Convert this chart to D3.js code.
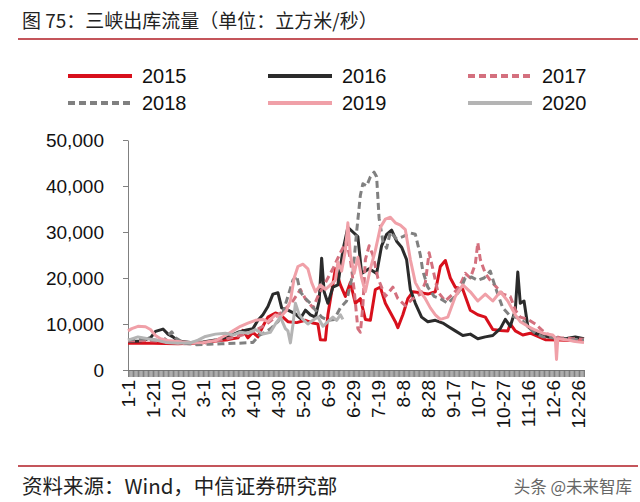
<!DOCTYPE html>
<html>
<head>
<meta charset="utf-8">
<script src="https://cdn.jsdelivr.net/npm/d3@7"></script>
<style>
  body { margin: 0; background: #fff; }
  svg { display: block; }
</style>
</head>
<body>
<div id="chart"></div>
<script>
// day index (leap-year calendar, 0 = 1-1) and outflow in m3/s
var flow2015 = [[0,5800],[20,5800],[40,5700],[60,5900],[70,6300],[80,6600],[88,7000],[92,8600],[96,7000],[100,8200],[104,7200],[108,9500],[112,11500],[118,12400],[122,12000],[128,10500],[135,10300],[142,10800],[148,10200],[152,10000],[154,6600],[158,6500],[160,12000],[163,17000],[166,22000],[170,18500],[174,16000],[178,19000],[182,14500],[186,15500],[190,11000],[194,10800],[198,17500],[202,18000],[206,14500],[210,12500],[214,10500],[216,9200],[220,12000],[224,15500],[228,17000],[234,16800],[240,16500],[246,17000],[250,22500],[254,23800],[258,20000],[262,18000],[268,17500],[274,13000],[280,12000],[286,11500],[292,8800],[298,8600],[304,8500],[306,10000],[310,8500],[316,7600],[322,8000],[328,7300],[334,6600],[345,6500],[355,6400],[365,6300]];
var flow2016 = [[0,6200],[10,6300],[18,7000],[22,8400],[28,8900],[32,7800],[36,7200],[40,6300],[50,6000],[60,6100],[70,6500],[80,7200],[88,8200],[95,8700],[100,9000],[104,10800],[108,12000],[112,13800],[116,16500],[120,16800],[123,13500],[128,13000],[134,12200],[138,11200],[142,13000],[146,12000],[150,11500],[153,15000],[155,24300],[157,17000],[160,14500],[164,18000],[168,18500],[172,26000],[176,31000],[180,30000],[184,29000],[187,21000],[193,22000],[199,21000],[203,27000],[207,29500],[211,30400],[215,28000],[219,26700],[223,24000],[226,17500],[230,14500],[235,11500],[240,10500],[246,10800],[252,10200],[256,9500],[262,8500],[268,7500],[274,7800],[280,6800],[286,7200],[292,7500],[298,9000],[302,11000],[306,9500],[310,13000],[312,21300],[314,14500],[317,15000],[320,9500],[326,8000],[332,7500],[340,7000],[350,6800],[358,7200],[365,6800]];
var flow2017 = [[0,6300],[15,6400],[30,6200],[45,5700],[60,5800],[75,6500],[90,7500],[100,8300],[110,9800],[118,11500],[125,13000],[132,15000],[138,17500],[142,15500],[148,13500],[152,16000],[158,19000],[164,22000],[170,25500],[175,28000],[178,24000],[181,17500],[184,9000],[186,8200],[188,14000],[190,24000],[193,27000],[196,25000],[200,20000],[206,16000],[212,18000],[216,15500],[222,14000],[228,15500],[234,16500],[238,19000],[241,25500],[244,22000],[248,17000],[254,15000],[260,16500],[265,18000],[270,21000],[274,20000],[278,23000],[280,27700],[282,24000],[286,21000],[290,19500],[295,18000],[300,16500],[306,16000],[310,13000],[314,11500],[320,11000],[326,10000],[332,8500],[338,7500],[346,7000],[356,6800],[365,6700]];
var flow2018 = [[0,6500],[10,6800],[20,6600],[28,6200],[32,7500],[35,8300],[38,7000],[45,5800],[55,5500],[65,5600],[75,5700],[85,5800],[95,5900],[100,6000],[105,7500],[110,8200],[115,9200],[120,10500],[124,12500],[128,16000],[132,19500],[135,20500],[138,17000],[142,15500],[146,14500],[150,13000],[155,11500],[160,10800],[165,11000],[170,13500],[175,15000],[180,21000],[183,30000],[186,38000],[188,40500],[191,40000],[194,42000],[197,43000],[199,42000],[201,33000],[204,28000],[207,26500],[210,30000],[215,28500],[220,29000],[226,29800],[230,29500],[234,25000],[236,21500],[240,18000],[245,16000],[250,15500],[256,14500],[262,16000],[266,17500],[270,20000],[275,20200],[280,19500],[285,20000],[290,21500],[294,18000],[300,13500],[305,12000],[310,11500],[315,11000],[320,9500],[326,8000],[332,7200],[340,7000],[350,6700],[358,6500],[365,6500]];
var flow2019 = [[0,8500],[3,9000],[8,9500],[14,9400],[18,8800],[22,7500],[26,6800],[32,6400],[40,6200],[50,5900],[60,6000],[70,6400],[78,7500],[84,8500],[90,9500],[96,10200],[102,10800],[108,11000],[112,10500],[118,12000],[122,11500],[127,13000],[130,15000],[133,20000],[136,22500],[140,23000],[144,22000],[147,19000],[150,17000],[154,18500],[158,17500],[162,18500],[166,19500],[168,23500],[171,21500],[174,26000],[176,32000],[178,25000],[181,21000],[184,24500],[187,20000],[190,17000],[194,22000],[198,26000],[202,31000],[206,32800],[210,33200],[214,32000],[218,31500],[222,30500],[226,24000],[230,19000],[234,17000],[238,15500],[242,13500],[246,12000],[250,11000],[256,11500],[262,16000],[268,18500],[274,17000],[280,15000],[286,16500],[292,15000],[298,17000],[304,15000],[310,12000],[314,10500],[320,9500],[326,8700],[332,8000],[340,7600],[342,7000],[343,2300],[344,6800],[352,6500],[358,6200],[365,6000]];
var flow2020 = [[0,6500],[8,7200],[16,6800],[24,6400],[30,6000],[40,5800],[50,5900],[56,6500],[62,7300],[70,7800],[78,8000],[84,7600],[90,8200],[96,8000],[102,8800],[108,7800],[114,8200],[118,10000],[122,11500],[126,9000],[128,8500],[130,5900],[132,9800],[134,14500],[137,12000],[140,11000],[144,10000],[148,10800],[152,11500],[156,9500],[160,10500],[164,11500],[167,10800],[170,12000],[172,11000]];

var years = ["2015","2016","2017","2018","2019","2020"];
var tickLabels = ["1-1","1-21","2-10","3-1","3-21","4-10","4-30","5-20","6-9","6-29","7-19","8-8","8-28","9-17","10-7","10-27","11-16","12-6","12-26"];
var yTicks = [0,10000,20000,30000,40000,50000];

var seriesData = [flow2015, flow2016, flow2017, flow2018, flow2019, flow2020];
var colors = ["#d8101c","#2b2b2b","#d4707e","#808080","#f0a0a8","#b4b4b4"];
var dashes = [null, null, "7,4", "7,4", null, null];

var width = 640, height = 502;
var svg = d3.select("#chart").append("svg")
	.attr("width", width)
	.attr("height", height)
	.style("font-family", "'Liberation Sans', Arial, sans-serif");

var cjk = "'Noto Sans CJK SC', 'Liberation Sans', sans-serif";

// title + rule
svg.append("text")
	.attr("x", 22).attr("y", 28)
	.style("font-family", cjk)
	.style("font-size", "19px")
	.attr("fill", "#222")
	.text("图 75：三峡出库流量（单位：立方米/秒）");
svg.append("line")
	.attr("x1", 18).attr("x2", 638)
	.attr("y1", 39).attr("y2", 39)
	.attr("stroke", "#b01c24").attr("stroke-width", 1.5);

// legend
var legend = svg.selectAll(".legend")
	.data(years)
	.enter().append("g")
	.attr("class", "legend")
	.attr("transform", function(d, i){
		return "translate(" + (68 + (i % 3) * 200) + "," + (76 + Math.floor(i / 3) * 27) + ")";
	});
legend.append("line")
	.attr("x1", 0).attr("x2", 64)
	.attr("stroke", function(d, i){ return colors[i]; })
	.attr("stroke-width", 4)
	.attr("stroke-dasharray", function(d, i){ return dashes[i]; });
legend.append("text")
	.attr("x", 74).attr("dy", "0.36em")
	.style("font-size", "20px")
	.attr("fill", "#111")
	.text(function(d){ return d; });

// scales
var x = d3.scaleLinear().domain([0, 365]).range([128, 584]);
var y = d3.scaleLinear().domain([0, 50000]).range([370, 140]);

// y axis
var yAxis = svg.append("g")
	.attr("transform", "translate(128,0)")
	.call(d3.axisLeft(y).tickValues(yTicks).tickSize(5).tickSizeOuter(0).tickPadding(19).tickFormat(d3.format(",")));
yAxis.select(".domain").attr("stroke", "#808080");
yAxis.selectAll(".tick line").attr("stroke", "#808080");
yAxis.selectAll("text").style("font-size", "19px").attr("fill", "#111");

// lines
var line = d3.line()
	.x(function(d){ return x(d[0]); })
	.y(function(d){ return y(d[1]); });

svg.selectAll(".series")
	.data(seriesData)
	.enter().append("path")
	.attr("class", "series")
	.attr("d", line)
	.attr("fill", "none")
	.attr("stroke", function(d, i){ return colors[i]; })
	.attr("stroke-width", 3)
	.attr("stroke-linejoin", "round")
	.attr("stroke-dasharray", function(d, i){ return dashes[i]; });

// x axis, one tick per day
var xAxis = svg.append("g")
	.attr("transform", "translate(0,370)")
	.call(d3.axisBottom(x).tickValues(d3.range(366)).tickSize(7).tickSizeOuter(0)
		.tickFormat(function(d){ return d % 20 === 0 ? tickLabels[d / 20] : ""; }));
xAxis.select(".domain").attr("stroke", "#808080");
xAxis.selectAll(".tick line").attr("stroke", "#6f6f6f").attr("stroke-width", 0.9);
xAxis.selectAll("text")
	.attr("transform", "rotate(-90)")
	.attr("x", -10).attr("y", 0)
	.attr("dy", "0.36em")
	.attr("text-anchor", "end")
	.style("font-size", "19px")
	.attr("fill", "#111");

// footer
svg.append("line")
	.attr("x1", 18).attr("x2", 638)
	.attr("y1", 466).attr("y2", 466)
	.attr("stroke", "#b01c24").attr("stroke-width", 1.5);
svg.append("text")
	.attr("x", 22).attr("y", 494)
	.style("font-family", cjk)
	.style("font-size", "20.5px")
	.attr("fill", "#222")
	.text("资料来源：Wind，中信证券研究部");
svg.append("text")
	.attr("x", 632).attr("y", 493)
	.attr("text-anchor", "end")
	.style("font-family", cjk)
	.style("font-size", "16.5px")
	.attr("fill", "#666")
	.text("头条 @未来智库");
</script>
</body>
</html>
